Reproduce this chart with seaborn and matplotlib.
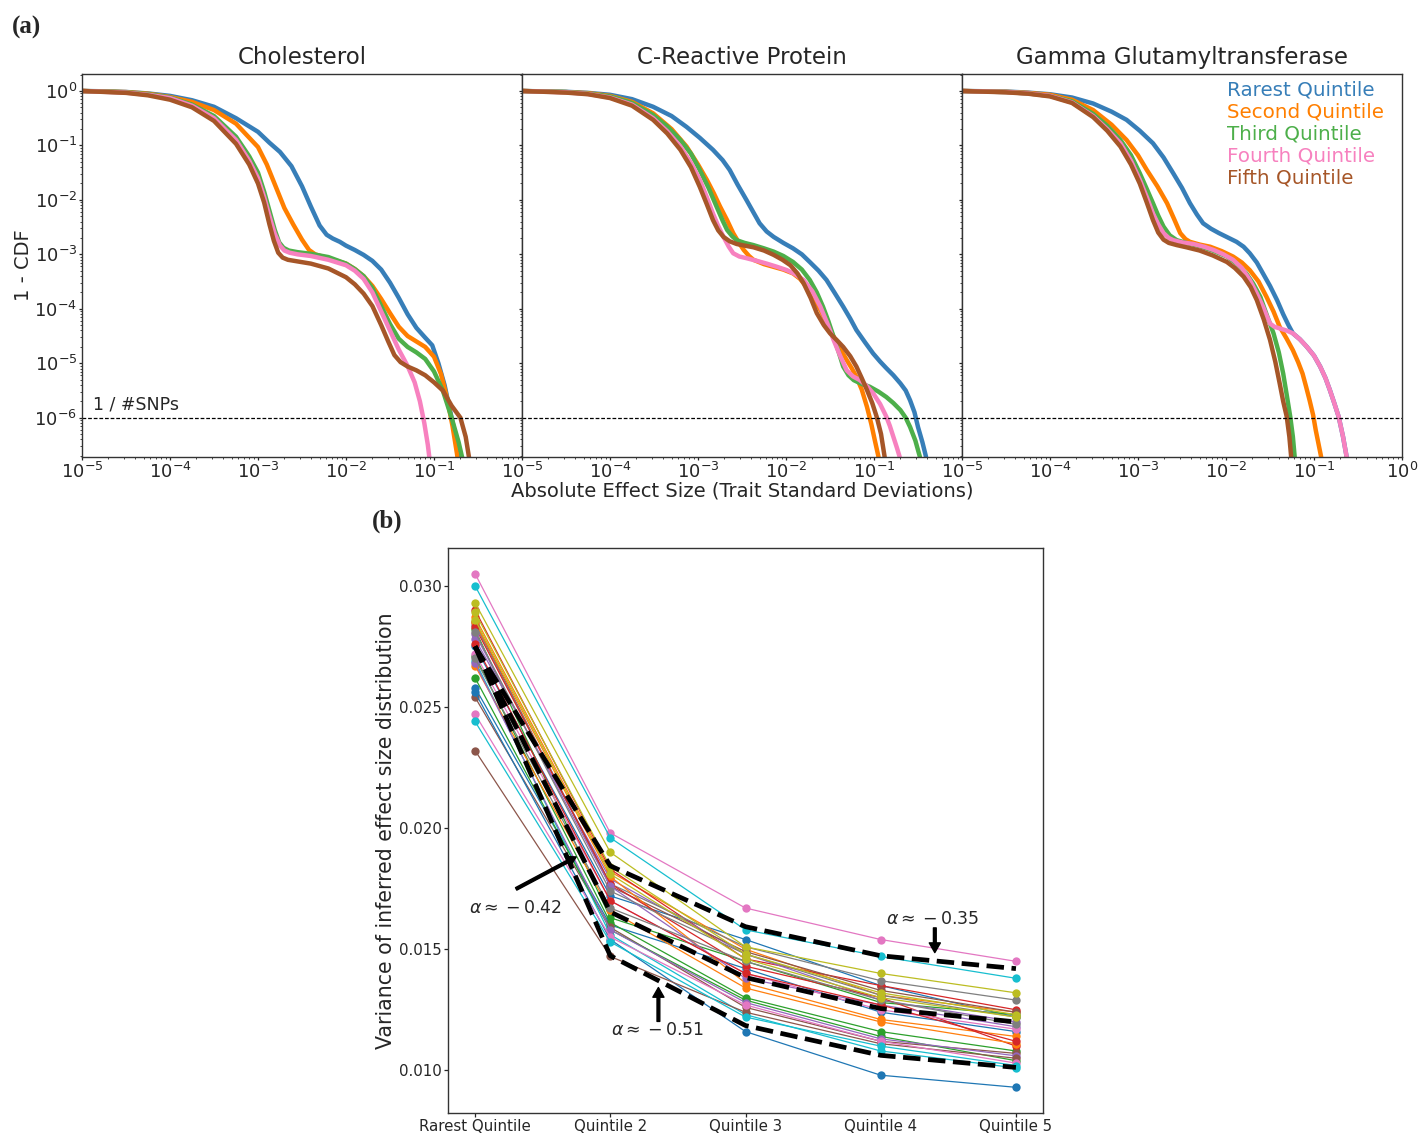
import matplotlib
matplotlib.use("Agg")
import matplotlib.pyplot as plt
import pandas as pd
import seaborn as sns

sns.set_style("ticks")
plt.rcParams["font.family"] = ["DejaVu Sans"]
plt.rcParams["mathtext.fontset"] = "dejavusans"

# ---------------- (a) tail distributions of effect sizes ----------------
QUINTILES = ["Rarest Quintile", "Second Quintile", "Third Quintile",
             "Fourth Quintile", "Fifth Quintile"]
QUINTILE_COLORS = ["#377eb8", "#ff7f00", "#4daf4a", "#f781bf", "#a65628"]
TRAITS = ["Cholesterol", "C-Reactive Protein", "Gamma Glutamyltransferase"]

# (log10 |effect|, log10 (1 - CDF)) pairs for each allele-frequency quintile
cholesterol_curves = {
    "Rarest Quintile": (
        [-5, -4.75, -4.5, -4.25, -4.0, -3.75, -3.5, -3.25, -3.0, -2.87, -2.75, -2.62,
         -2.5, -2.4, -2.3, -2.22, -2.15, -2.07, -2.0, -1.9, -1.8, -1.7, -1.6, -1.5,
         -1.4, -1.3, -1.2, -1.1, -1.02, -0.95, -0.88, -0.82, -0.76, -0.71, -0.67],
        [0, -0.006, -0.018, -0.045, -0.09, -0.17, -0.29, -0.50, -0.75, -0.95, -1.12,
         -1.38, -1.75, -2.12, -2.47, -2.64, -2.71, -2.77, -2.84, -2.92, -3.01, -3.12,
         -3.28, -3.52, -3.80, -4.10, -4.35, -4.53, -4.67, -5.0, -5.4, -5.85, -6.3,
         -6.75, -7.2]),
    "Second Quintile": (
        [-5, -4.5, -4.25, -4.0, -3.75, -3.5, -3.25, -3.0, -2.9, -2.8, -2.7, -2.6,
         -2.5, -2.42, -2.35, -2.25, -2.1, -2.0, -1.9, -1.8, -1.7, -1.6, -1.5, -1.4,
         -1.3, -1.2, -1.1, -1.0, -0.92, -0.85, -0.79, -0.74, -0.69],
        [0, -0.02, -0.05, -0.11, -0.2, -0.35, -0.6, -1.03, -1.35, -1.75, -2.15, -2.45,
         -2.73, -2.92, -3.0, -3.05, -3.12, -3.17, -3.27, -3.40, -3.58, -3.82, -4.08,
         -4.33, -4.5, -4.6, -4.7, -4.88, -5.2, -5.65, -6.15, -6.65, -7.2]),
    "Third Quintile": (
        [-5, -4.5, -4.25, -4.0, -3.75, -3.5, -3.25, -3.1, -3.0, -2.93, -2.87, -2.81,
         -2.76, -2.71, -2.65, -2.55, -2.4, -2.2, -2.0, -1.9, -1.8, -1.7, -1.6, -1.5,
         -1.4, -1.3, -1.2, -1.1, -1.0, -0.9, -0.8, -0.72, -0.67, -0.64],
        [0, -0.025, -0.06, -0.12, -0.25, -0.46, -0.84, -1.2, -1.5, -1.85, -2.2, -2.55,
         -2.78, -2.88, -2.93, -2.96, -2.99, -3.05, -3.17, -3.27, -3.40, -3.62, -3.95,
         -4.28, -4.55, -4.7, -4.8, -4.92, -5.15, -5.5, -6.0, -6.45, -6.8, -7.2]),
    "Fourth Quintile": (
        [-5, -4.5, -4.25, -4.0, -3.75, -3.5, -3.25, -3.1, -3.0, -2.93, -2.87, -2.81,
         -2.75, -2.7, -2.64, -2.55, -2.4, -2.2, -2.0, -1.9, -1.8, -1.7, -1.6, -1.5,
         -1.4, -1.3, -1.22, -1.16, -1.11, -1.07, -1.04, -1.02],
        [0, -0.03, -0.07, -0.13, -0.27, -0.5, -0.9, -1.28, -1.6, -1.95, -2.3, -2.62,
         -2.84, -2.93, -2.97, -3.0, -3.03, -3.1, -3.2, -3.3, -3.45, -3.7, -4.05, -4.4,
         -4.75, -5.05, -5.35, -5.7, -6.1, -6.5, -6.9, -7.2]),
    "Fifth Quintile": (
        [-5, -4.5, -4.25, -4.0, -3.75, -3.5, -3.25, -3.1, -3.0, -2.93, -2.87, -2.82,
         -2.77, -2.72, -2.66, -2.55, -2.4, -2.2, -2.0, -1.9, -1.8, -1.7, -1.6, -1.52,
         -1.45, -1.38, -1.3, -1.2, -1.1, -1.0, -0.9, -0.8, -0.7, -0.64, -0.6, -0.57],
        [0, -0.035, -0.08, -0.16, -0.3, -0.55, -0.97, -1.35, -1.7, -2.05, -2.45, -2.75,
         -2.97, -3.06, -3.1, -3.13, -3.17, -3.26, -3.42, -3.55, -3.72, -3.95, -4.3,
         -4.6, -4.85, -4.98, -5.06, -5.13, -5.22, -5.35, -5.5, -5.78, -6.0, -6.35,
         -6.75, -7.2]),
}

crp_curves = {
    "Rarest Quintile": (
        [-5, -4.5, -4.25, -4.0, -3.75, -3.51, -3.3, -3.13, -2.98, -2.83, -2.72, -2.64,
         -2.55, -2.45, -2.37, -2.30, -2.22, -2.14, -2.03, -1.92, -1.82, -1.73, -1.63,
         -1.54, -1.45, -1.35, -1.27, -1.20, -1.10, -1.01, -0.93, -0.86, -0.78, -0.70,
         -0.64, -0.59, -0.54, -0.50, -0.45, -0.41, -0.39],
        [0, -0.015, -0.035, -0.07, -0.15, -0.29, -0.46, -0.66, -0.86, -1.08, -1.27,
         -1.45, -1.72, -2.0, -2.23, -2.43, -2.58, -2.68, -2.79, -2.89, -3.0, -3.14,
         -3.3, -3.47, -3.7, -3.96, -4.18, -4.39, -4.62, -4.82, -4.97, -5.09, -5.22,
         -5.37, -5.5, -5.68, -5.9, -6.17, -6.45, -6.71, -7.2]),
    "Second Quintile": (
        [-5, -4.5, -4.25, -4.0, -3.75, -3.51, -3.3, -3.13, -3.0, -2.9, -2.82, -2.75,
         -2.67, -2.60, -2.53, -2.48, -2.42, -2.37, -2.25, -2.14, -2.03, -1.92, -1.84,
         -1.77, -1.69, -1.61, -1.53, -1.46, -1.38, -1.31, -1.25, -1.20, -1.14, -1.08,
         -1.03, -0.99, -0.95, -0.92],
        [0, -0.02, -0.04, -0.09, -0.2, -0.41, -0.7, -1.02, -1.35, -1.63, -1.88, -2.12,
         -2.37, -2.61, -2.80, -2.92, -3.03, -3.10, -3.18, -3.23, -3.28, -3.35, -3.45,
         -3.59, -3.78, -4.02, -4.27, -4.51, -4.75, -4.94, -5.1, -5.25, -5.48, -5.80,
         -6.12, -6.42, -6.71, -7.2]),
    "Third Quintile": (
        [-5, -4.5, -4.25, -4.0, -3.75, -3.51, -3.35, -3.20, -3.08, -2.98, -2.88, -2.79,
         -2.72, -2.67, -2.61, -2.56, -2.47, -2.37, -2.25, -2.14, -2.03, -1.92, -1.82,
         -1.73, -1.65, -1.58, -1.52, -1.46, -1.40, -1.35, -1.29, -1.23, -1.14, -1.05,
         -0.95, -0.86, -0.78, -0.70, -0.64, -0.59, -0.53, -0.48, -0.45],
        [0, -0.02, -0.05, -0.10, -0.22, -0.44, -0.65, -0.90, -1.15, -1.45, -1.78,
         -2.12, -2.38, -2.55, -2.67, -2.74, -2.79, -2.83, -2.89, -2.95, -3.03, -3.14,
         -3.28, -3.47, -3.70, -3.96, -4.22, -4.51, -4.80, -5.06, -5.22, -5.31, -5.38,
         -5.43, -5.52, -5.62, -5.73, -5.86, -6.0, -6.17, -6.42, -6.71, -7.2]),
    "Fourth Quintile": (
        [-5, -4.5, -4.25, -4.0, -3.75, -3.51, -3.35, -3.20, -3.08, -2.98, -2.90, -2.83,
         -2.77, -2.71, -2.65, -2.60, -2.53, -2.45, -2.33, -2.22, -2.10, -1.99, -1.90,
         -1.80, -1.70, -1.61, -1.53, -1.46, -1.38, -1.31, -1.24, -1.16, -1.08, -1.01,
         -0.93, -0.86, -0.82, -0.78, -0.74, -0.71, -0.69],
        [0, -0.025, -0.055, -0.12, -0.25, -0.50, -0.74, -1.02, -1.32, -1.63, -1.95,
         -2.25, -2.48, -2.68, -2.86, -2.98, -3.04, -3.07, -3.12, -3.17, -3.23, -3.29,
         -3.36, -3.47, -3.68, -3.96, -4.27, -4.57, -4.88, -5.13, -5.24, -5.31, -5.42,
         -5.55, -5.75, -5.98, -6.15, -6.35, -6.55, -6.71, -7.2]),
    "Fifth Quintile": (
        [-5, -4.5, -4.25, -4.0, -3.75, -3.51, -3.35, -3.20, -3.08, -2.98, -2.90, -2.83,
         -2.77, -2.71, -2.64, -2.56, -2.47, -2.37, -2.25, -2.14, -2.04, -1.95, -1.87,
         -1.80, -1.72, -1.65, -1.57, -1.50, -1.42, -1.35, -1.27, -1.20, -1.14, -1.08,
         -1.02, -0.97, -0.92, -0.88, -0.86],
        [0, -0.03, -0.06, -0.13, -0.27, -0.53, -0.78, -1.08, -1.40, -1.76, -2.08,
         -2.37, -2.56, -2.68, -2.76, -2.81, -2.84, -2.87, -2.93, -3.01, -3.10, -3.20,
         -3.35, -3.53, -3.80, -4.08, -4.30, -4.45, -4.58, -4.70, -4.87, -5.06, -5.27,
         -5.49, -5.73, -5.98, -6.3, -6.71, -7.2]),
}

ggt_curves = {
    "Rarest Quintile": (
        [-5, -4.5, -4.25, -4.0, -3.75, -3.51, -3.3, -3.13, -2.98, -2.83, -2.71, -2.60,
         -2.50, -2.41, -2.33, -2.26, -2.17, -2.08, -1.98, -1.88, -1.80, -1.73, -1.65,
         -1.58, -1.50, -1.42, -1.35, -1.29, -1.24, -1.16, -1.08, -1.00, -0.93, -0.87,
         -0.82, -0.77, -0.72, -0.67, -0.63, -0.61],
        [0, -0.01, -0.03, -0.06, -0.12, -0.23, -0.38, -0.53, -0.73, -0.96, -1.22,
         -1.51, -1.78, -2.06, -2.27, -2.43, -2.53, -2.61, -2.69, -2.77, -2.86, -2.98,
         -3.15, -3.35, -3.58, -3.84, -4.10, -4.30, -4.45, -4.56, -4.70, -4.86, -5.06,
         -5.27, -5.49, -5.73, -5.98, -6.35, -6.71, -7.2]),
    "Second Quintile": (
        [-5, -4.5, -4.25, -4.0, -3.75, -3.51, -3.3, -3.13, -3.0, -2.90, -2.78, -2.67,
         -2.59, -2.52, -2.46, -2.41, -2.30, -2.18, -2.05, -1.92, -1.82, -1.73, -1.63,
         -1.54, -1.46, -1.39, -1.31, -1.24, -1.18, -1.13, -1.09, -1.05, -1.01, -0.98,
         -0.95, -0.92, -0.90],
        [0, -0.015, -0.035, -0.07, -0.16, -0.35, -0.62, -0.90, -1.18, -1.45, -1.75,
         -2.06, -2.35, -2.61, -2.72, -2.77, -2.82, -2.86, -2.94, -3.04, -3.15, -3.29,
         -3.50, -3.78, -4.05, -4.33, -4.55, -4.76, -4.98, -5.19, -5.43, -5.68, -5.95,
         -6.23, -6.47, -6.71, -7.2]),
    "Third Quintile": (
        [-5, -4.5, -4.25, -4.0, -3.75, -3.51, -3.35, -3.20, -3.08, -2.98, -2.90, -2.83,
         -2.77, -2.71, -2.64, -2.56, -2.45, -2.30, -2.15, -1.99, -1.88, -1.77, -1.69,
         -1.61, -1.54, -1.46, -1.40, -1.35, -1.31, -1.27, -1.24, -1.22, -1.21],
        [0, -0.02, -0.045, -0.09, -0.19, -0.42, -0.64, -0.90, -1.18, -1.51, -1.80,
         -2.06, -2.29, -2.49, -2.65, -2.74, -2.79, -2.85, -2.93, -3.04, -3.17, -3.35,
         -3.54, -3.78, -4.10, -4.45, -4.80, -5.19, -5.58, -5.98, -6.35, -6.71, -7.2]),
    "Fourth Quintile": (
        [-5, -4.5, -4.25, -4.0, -3.75, -3.51, -3.35, -3.20, -3.08, -2.98, -2.90, -2.83,
         -2.77, -2.71, -2.65, -2.60, -2.50, -2.37, -2.25, -2.14, -2.03, -1.92, -1.82,
         -1.73, -1.65, -1.58, -1.54, -1.50, -1.45, -1.39, -1.31, -1.24, -1.16, -1.08,
         -1.00, -0.93, -0.87, -0.82, -0.77, -0.72, -0.67, -0.63, -0.61],
        [0, -0.02, -0.045, -0.09, -0.21, -0.46, -0.70, -0.96, -1.28, -1.63, -1.95,
         -2.25, -2.45, -2.61, -2.70, -2.74, -2.78, -2.81, -2.86, -2.92, -3.0, -3.10,
         -3.25, -3.47, -3.72, -3.96, -4.12, -4.27, -4.33, -4.36, -4.40, -4.45, -4.56,
         -4.70, -4.86, -5.06, -5.27, -5.49, -5.73, -5.98, -6.35, -6.71, -7.2]),
    "Fifth Quintile": (
        [-5, -4.5, -4.25, -4.0, -3.75, -3.51, -3.35, -3.20, -3.08, -2.98, -2.90, -2.83,
         -2.77, -2.71, -2.65, -2.56, -2.45, -2.30, -2.15, -1.99, -1.90, -1.80, -1.72,
         -1.65, -1.57, -1.50, -1.44, -1.39, -1.35, -1.31, -1.28, -1.26, -1.25],
        [0, -0.025, -0.05, -0.10, -0.22, -0.48, -0.73, -1.02, -1.35, -1.70, -2.05,
         -2.37, -2.60, -2.73, -2.79, -2.83, -2.87, -2.93, -3.02, -3.14, -3.25, -3.41,
         -3.60, -3.84, -4.20, -4.57, -4.97, -5.37, -5.70, -5.98, -6.35, -6.71, -7.2]),
}

SNP_THRESHOLD = 1e-6

# ---------------- (b) variance of inferred effect sizes ----------------
QUINTILE_TICKS = ["Rarest Quintile", "Quintile 2", "Quintile 3", "Quintile 4", "Quintile 5"]
N_TRAITS = 30

var_rarest = [0.0275, 0.0287, 0.0282, 0.0290, 0.0278, 0.0285, 0.0305, 0.0284, 0.0293, 0.0300,
              0.0258, 0.0285, 0.0271, 0.0283, 0.0280, 0.0254, 0.0272, 0.0281, 0.0289, 0.0269,
              0.0256, 0.0267, 0.0262, 0.0276, 0.0268, 0.0232, 0.0247, 0.0270, 0.0286, 0.0244]
var_q2 = [0.0172, 0.0182, 0.0163, 0.0183, 0.0179, 0.0176, 0.0198, 0.0177, 0.0190, 0.0196,
          0.0160, 0.0180, 0.0161, 0.0177, 0.0176, 0.0159, 0.0170, 0.0174, 0.0184, 0.0156,
          0.0154, 0.0166, 0.0158, 0.0170, 0.0158, 0.0147, 0.0155, 0.0167, 0.0181, 0.0153]
var_q3 = [0.0154, 0.0150, 0.0145, 0.0146, 0.0148, 0.0149, 0.0167, 0.0151, 0.0151, 0.0158,
          0.0142, 0.0136, 0.0130, 0.0143, 0.0138, 0.0126, 0.0140, 0.0148, 0.0148, 0.0123,
          0.0116, 0.0134, 0.0129, 0.0140, 0.0128, 0.0124, 0.0127, 0.0145, 0.0146, 0.0122]
var_q4 = [0.0135, 0.0131, 0.0128, 0.0135, 0.0129, 0.0133, 0.0154, 0.0137, 0.0140, 0.0147,
          0.0124, 0.0121, 0.0116, 0.0130, 0.0127, 0.0112, 0.0125, 0.0131, 0.0132, 0.0108,
          0.0098, 0.0120, 0.0114, 0.0127, 0.0113, 0.0111, 0.0112, 0.0129, 0.0130, 0.0110]
var_q5 = [0.0122, 0.0124, 0.0123, 0.0125, 0.0120, 0.0124, 0.0145, 0.0129, 0.0132, 0.0138,
          0.0116, 0.0114, 0.0108, 0.0110, 0.0118, 0.0107, 0.0117, 0.0122, 0.0123, 0.0101,
          0.0093, 0.0111, 0.0104, 0.0112, 0.0106, 0.0105, 0.0103, 0.0119, 0.0122, 0.0102]

# power-law fits, var ~ frequency^alpha
fit_alpha_035 = [0.0275, 0.01844, 0.01593, 0.01473, 0.01420]
fit_alpha_042 = [0.0275, 0.01654, 0.01383, 0.01255, 0.01200]
fit_alpha_051 = [0.0275, 0.01473, 0.01185, 0.01062, 0.01012]


def curves_frame(curves):
    rows = []
    for q, (lx, ly) in curves.items():
        for a, b in zip(lx, ly):
            rows.append((q, 10.0 ** a, 10.0 ** b))
    return pd.DataFrame(rows, columns=["quintile", "effect", "sf"])


fig = plt.figure(figsize=(14.19, 11.34), dpi=100)
W, H = 1419.0, 1134.0

axes_a = []
for k in range(3):
    left = 82 + 440 * k
    ax = fig.add_axes([left / W, 1 - 457 / H, 440 / W, 383 / H],
                      sharey=axes_a[0] if axes_a else None)
    axes_a.append(ax)

for ax, trait, curves in zip(axes_a, TRAITS, [cholesterol_curves, crp_curves, ggt_curves]):
    ax.set_xscale("log")
    ax.set_yscale("log")
    sns.lineplot(data=curves_frame(curves), x="effect", y="sf", hue="quintile",
                 hue_order=QUINTILES, palette=QUINTILE_COLORS, sort=False,
                 estimator=None, lw=3.2, legend=False, ax=ax,
                 solid_joinstyle="round", solid_capstyle="butt")
    ax.axhline(SNP_THRESHOLD, color="black", ls="--", lw=0.9, dashes=(3, 1.5))
    ax.set_xlim(1e-5, 1)
    ax.set_ylim(1.9e-7, 2.05)
    ax.set_title(trait, fontsize=16.5, pad=7)
    ax.set_xlabel("")
    ax.set_ylabel("")
    ax.tick_params(axis="both", which="major", labelsize=13, length=2.5, width=0.9, pad=1)
    ax.tick_params(axis="both", which="minor", length=1.5, width=0.6)
    for sp in ax.spines.values():
        sp.set_color("#333333")
        sp.set_linewidth(1.0)

for ax in axes_a[:2]:
    ax.set_xticks([1e-5, 1e-4, 1e-3, 1e-2, 1e-1])
axes_a[2].set_xticks([1e-5, 1e-4, 1e-3, 1e-2, 1e-1, 1e0])
for ax in axes_a[1:]:
    ax.tick_params(axis="y", which="both", labelleft=False)

axes_a[0].set_ylabel("1 - CDF", fontsize=14)
axes_a[0].yaxis.set_label_coords(-0.111, 0.5)
axes_a[1].set_xlabel("Absolute Effect Size (Trait Standard Deviations)", fontsize=14)
axes_a[1].xaxis.set_label_coords(0.5, -0.064)
axes_a[0].text(1.33e-5, 1.2e-6, "1 / #SNPs", fontsize=12.5, va="bottom", ha="left")

leg = axes_a[2].legend(axes_a[2].get_lines()[:5], QUINTILES, loc="upper right",
                       frameon=False, handlelength=0, handletextpad=0,
                       fontsize=14.3, labelspacing=0.15,
                       bbox_to_anchor=(1.0, 1.03))
for h in leg.legend_handles:
    h.set_visible(False)
for t, c in zip(leg.get_texts(), QUINTILE_COLORS):
    t.set_color(c)

# ---------------- panel (b) ----------------
axb = fig.add_axes([448 / W, 1 - 1113 / H, 595 / W, 565 / H])
rows = []
for i in range(N_TRAITS):
    for q, col in zip(QUINTILE_TICKS, [var_rarest, var_q2, var_q3, var_q4, var_q5]):
        rows.append((i, q, col[i]))
df_b = pd.DataFrame(rows, columns=["trait", "quintile", "variance"])
tab10 = sns.color_palette("tab10", 10)
palette30 = [tab10[i % 10] for i in range(N_TRAITS)]
sns.lineplot(data=df_b, x="quintile", y="variance", hue="trait", palette=palette30,
             marker="o", markersize=6, markeredgewidth=0, lw=0.9, sort=False,
             estimator=None, legend=False, ax=axb)

for fit in [fit_alpha_035, fit_alpha_042, fit_alpha_051]:
    df_fit = pd.DataFrame({"quintile": QUINTILE_TICKS, "variance": fit})
    sns.lineplot(data=df_fit, x="quintile", y="variance", color="black", lw=3.4,
                 ls="--", sort=False, estimator=None, ax=axb, zorder=5)

arrow = dict(facecolor="black", edgecolor="black", width=2.0, headwidth=8,
             headlength=7, shrink=0.0)
label_style = dict(fontsize=12.5, ha="center", va="center")
axb.annotate("", xy=(0.748, 0.01881), xytext=(0.304, 0.01749), arrowprops=arrow, zorder=6)
axb.text(0.296, 0.01671, r"$\alpha\approx-0.42$", **label_style)
axb.annotate("", xy=(3.40, 0.01486), xytext=(3.40, 0.01588), arrowprops=arrow, zorder=6)
axb.text(3.385, 0.01626, r"$\alpha\approx-0.35$", **label_style)
axb.annotate("", xy=(1.356, 0.01342), xytext=(1.356, 0.01202), arrowprops=arrow, zorder=6)
axb.text(1.348, 0.01165, r"$\alpha\approx-0.51$", **label_style)

axb.set_xlabel("")
axb.set_ylabel("Variance of inferred effect size distribution", fontsize=14.8)
axb.yaxis.set_label_coords(-0.087, 0.5)
axb.tick_params(axis="x", labelsize=10.8, length=3, width=0.9, pad=1.5)
axb.tick_params(axis="y", labelsize=10.8, length=3, width=0.9, pad=1.5)
for sp in axb.spines.values():
    sp.set_color("#333333")
    sp.set_linewidth(1.0)

fig.text(12 / W, 1 - 27 / H, "(a)", fontsize=18, fontweight="bold",
         family="Liberation Serif", va="center", ha="left")
fig.text(372 / W, 1 - 521 / H, "(b)", fontsize=18, fontweight="bold",
         family="Liberation Serif", va="center", ha="left")

fig.savefig("out.png", dpi=100)
